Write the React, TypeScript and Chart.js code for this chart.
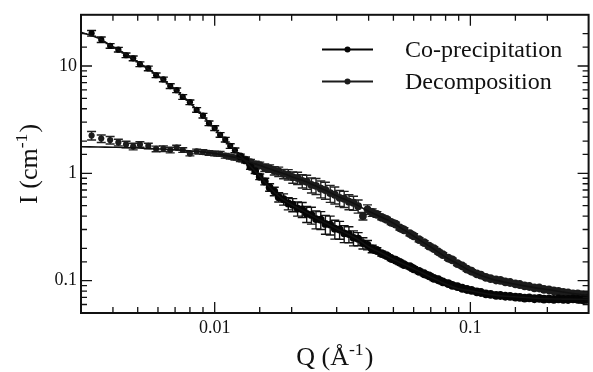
import { useEffect, useRef } from "react";
import { Chart, registerables } from "chart.js";

Chart.register(...registerables);

// ---------- data ----------
const qValues = [
  0.0033, 0.0036, 0.0039, 0.0042, 0.0045, 0.0048, 0.0051, 0.0055, 0.0059, 0.0063, 0.0067, 0.0071, 0.0075, 0.008, 0.0085, 0.009, 0.0095, 0.01,
  0.0105, 0.011, 0.0115, 0.012, 0.0126, 0.0132, 0.0138, 0.0144, 0.015, 0.0157, 0.0164, 0.0171, 0.0178, 0.0186, 0.0194, 0.0202, 0.0211, 0.022,
  0.0229, 0.0239, 0.0249, 0.026, 0.0271, 0.0283, 0.0295, 0.0308, 0.0321, 0.0335, 0.0349, 0.0364, 0.038, 0.0396, 0.0413, 0.0431, 0.045,
  0.047, 0.049, 0.051, 0.053, 0.055, 0.058, 0.06, 0.063, 0.066, 0.069, 0.072, 0.075, 0.078, 0.082, 0.085, 0.089, 0.093, 0.097,
  0.101, 0.106, 0.11, 0.115, 0.12, 0.126, 0.131, 0.137, 0.143, 0.15, 0.156, 0.163, 0.17, 0.178, 0.186, 0.194, 0.203, 0.212, 0.221, 0.231,
  0.241, 0.252, 0.263, 0.275, 0.287,
];

const coIntensity = [
  20.2, 17.6, 15.4, 14.2, 12.6, 11.8, 10.4, 9.5, 8.2, 7.5, 6.5, 5.95, 5.15, 4.6, 3.9, 3.45, 2.93, 2.64,
  2.28, 2.06, 1.8, 1.64, 1.44, 1.32, 1.15, 1.05, 0.93, 0.84, 0.74, 0.68, 0.6, 0.575, 0.525, 0.51, 0.47, 0.462,
  0.42, 0.41, 0.375, 0.37, 0.338, 0.333, 0.305, 0.3, 0.276, 0.272, 0.251, 0.246, 0.224, 0.215, 0.198, 0.191, 0.179,
  0.171, 0.161, 0.155, 0.148, 0.141, 0.135, 0.129, 0.122, 0.116, 0.111, 0.105, 0.102, 0.0975, 0.094, 0.0905, 0.088, 0.085, 0.0828,
  0.0812, 0.0788, 0.0776, 0.0755, 0.0745, 0.0731, 0.0728, 0.0716, 0.0713, 0.0702, 0.0698, 0.0687, 0.0691, 0.0679, 0.0684, 0.0672, 0.0677, 0.0671, 0.0676, 0.0669,
  0.0668, 0.0676, 0.0671, 0.0666, 0.0678,
];

const deIntensity = [
  2.25, 2.11, 2.04, 1.94, 1.86, 1.78, 1.86, 1.8, 1.69, 1.7, 1.65, 1.74, 1.65, 1.53, 1.6, 1.58, 1.55, 1.53,
  1.52, 1.46, 1.43, 1.4, 1.37, 1.34, 1.27, 1.21, 1.19, 1.13, 1.11, 1.06, 1.04, 0.99, 0.975, 0.92, 0.905, 0.85,
  0.835, 0.78, 0.765, 0.72, 0.7, 0.655, 0.632, 0.592, 0.58, 0.545, 0.532, 0.495, 0.4, 0.462, 0.432, 0.415, 0.389,
  0.372, 0.35, 0.336, 0.311, 0.298, 0.274, 0.262, 0.241, 0.226, 0.21, 0.199, 0.185, 0.175, 0.162, 0.156, 0.144, 0.137, 0.128,
  0.1225, 0.1155, 0.1125, 0.1075, 0.1045, 0.1015, 0.1005, 0.0975, 0.0962, 0.0935, 0.0921, 0.0896, 0.0883, 0.0858, 0.0855, 0.0831, 0.082, 0.0805, 0.0794, 0.0779,
  0.0769, 0.0755, 0.0753, 0.0739, 0.0729,
];

// relative uncertainties (fraction of I)
const coError = [
  0.06, 0.06, 0.05, 0.05, 0.05, 0.05, 0.05, 0.05, 0.05, 0.05, 0.05, 0.05, 0.05, 0.05, 0.05, 0.05, 0.05, 0.05,
  0.05, 0.05, 0.05, 0.05, 0.05, 0.05, 0.05, 0.05, 0.06, 0.07, 0.08, 0.09, 0.1, 0.12, 0.13, 0.14, 0.15, 0.16,
  0.17, 0.18, 0.19, 0.19, 0.2, 0.2, 0.2, 0.19, 0.18, 0.17, 0.16, 0.14, 0.12, 0.1, 0.08, 0.06, 0.05,
  0.045, 0.045, 0.045, 0.045, 0.045, 0.045, 0.045, 0.045, 0.045, 0.045, 0.045, 0.04, 0.04, 0.04, 0.04, 0.04, 0.04, 0.04,
  0.035, 0.035, 0.035, 0.035, 0.035, 0.035, 0.035, 0.035, 0.035, 0.035, 0.035, 0.035, 0.035, 0.035, 0.035, 0.035, 0.035, 0.035, 0.035, 0.035,
  0.04, 0.05, 0.06, 0.07, 0.08,
];

const deError = [
  0.09, 0.08, 0.08, 0.07, 0.07, 0.07, 0.06, 0.06, 0.06, 0.06, 0.06, 0.05, 0.05, 0.05, 0.05, 0.05, 0.05, 0.05,
  0.05, 0.05, 0.05, 0.05, 0.06, 0.06, 0.06, 0.07, 0.07, 0.08, 0.08, 0.09, 0.1, 0.1, 0.11, 0.12, 0.13, 0.14,
  0.15, 0.16, 0.17, 0.18, 0.18, 0.18, 0.18, 0.17, 0.17, 0.16, 0.15, 0.14, 0.08, 0.1, 0.08, 0.06, 0.05,
  0.045, 0.045, 0.045, 0.045, 0.045, 0.045, 0.045, 0.045, 0.045, 0.04, 0.04, 0.04, 0.04, 0.04, 0.04, 0.04, 0.04, 0.04,
  0.035, 0.035, 0.035, 0.035, 0.035, 0.035, 0.035, 0.035, 0.035, 0.035, 0.035, 0.035, 0.035, 0.035, 0.035, 0.035, 0.035, 0.035, 0.035, 0.035,
  0.04, 0.05, 0.06, 0.07, 0.08,
];

const fitQ = [
  0.003, 0.0035, 0.004, 0.0045, 0.005, 0.006, 0.007, 0.008, 0.009, 0.01, 0.011, 0.012, 0.013, 0.014, 0.015, 0.016, 0.017, 0.018, 0.019, 0.02,
  0.022, 0.024, 0.026, 0.028, 0.03, 0.033, 0.036, 0.04, 0.045, 0.05, 0.055, 0.06, 0.065, 0.07, 0.08, 0.09, 0.1, 0.12, 0.14, 0.16, 0.18, 0.2,
  0.23, 0.26, 0.29,
];

const coFit = [
  20.6, 18.2, 15.1, 12.9, 10.9, 8.1, 6.05, 4.54, 3.41, 2.61, 2.04, 1.63, 1.35, 1.12, 0.94, 0.79, 0.68, 0.6, 0.548, 0.51,
  0.452, 0.404, 0.364, 0.332, 0.305, 0.274, 0.246, 0.207, 0.18, 0.158, 0.142, 0.129, 0.118, 0.108, 0.093, 0.084, 0.0805, 0.0742, 0.0715, 0.07, 0.0687, 0.0678,
  0.0674, 0.0672, 0.067,
];

const deFit = [
  1.77, 1.76, 1.75, 1.74, 1.72, 1.69, 1.66, 1.62, 1.58, 1.53, 1.47, 1.41, 1.34, 1.25, 1.19, 1.12, 1.07, 1.02, 0.98, 0.93,
  0.861, 0.79, 0.726, 0.67, 0.617, 0.56, 0.507, 0.443, 0.39, 0.343, 0.297, 0.261, 0.23, 0.206, 0.166, 0.142, 0.123, 0.104, 0.0955, 0.09, 0.0857, 0.0827,
  0.0785, 0.0752, 0.0726,
];

const seriesNames = ["Co-precipitation", "Decomposition"];
const xTickLabels = [0.01, 0.1];
const yTickLabels = [0.1, 1, 10];
// axis titles: [text, superscript, closing text]
const xTitleParts = ["Q (Å", "-1", ")"];
const yTitleParts = ["I (cm", "-1", ")"];

// ---------- styling ----------
const FONT = "'Liberation Serif', 'Times New Roman', Times, serif";
const INK = "#111111";
const CO_COLOR = "#050505";
const DE_COLOR = "#1c1c1c";

const labelFor = (v: number, list: number[]) => {
  for (const l of list) if (Math.abs(v / l - 1) < 1e-6) return String(l);
  return "";
};

const isDecade = (v: number) => {
  const l = Math.log10(v);
  return Math.abs(l - Math.round(l)) < 1e-6;
};

// draws "base" + superscript "sup" + "tail", centred on (0,0) horizontally, baseline at 0
const drawSupTitle = (ctx: CanvasRenderingContext2D, parts: string[], size: number) => {
  const supSize = size * 0.68;
  ctx.font = `${size}px ${FONT}`;
  const w0 = ctx.measureText(parts[0]).width;
  const w2 = ctx.measureText(parts[2]).width;
  ctx.font = `${supSize}px ${FONT}`;
  const w1 = ctx.measureText(parts[1]).width;
  const total = w0 + w1 + w2 + 1;
  let x = -total / 2;
  ctx.textAlign = "left";
  ctx.textBaseline = "alphabetic";
  ctx.font = `${size}px ${FONT}`;
  ctx.fillText(parts[0], x, 0);
  x += w0;
  ctx.font = `${supSize}px ${FONT}`;
  ctx.fillText(parts[1], x, -size * 0.38);
  x += w1 + 1;
  ctx.font = `${size}px ${FONT}`;
  ctx.fillText(parts[2], x, 0);
};

const errorBarPlugin = {
  id: "errorBars",
  beforeDatasetsDraw(chart: any) {
    const { ctx, chartArea: a, scales } = chart;
    const x = scales.x;
    const y = scales.y;
    ctx.save();
    ctx.beginPath();
    ctx.rect(a.left, a.top, a.right - a.left, a.bottom - a.top);
    ctx.clip();
    chart.data.datasets.forEach((ds: any) => {
      if (!ds.errors) return;
      ctx.strokeStyle = ds.errorColor;
      ctx.lineWidth = 1.4;
      ds.data.forEach((pt: any, j: number) => {
        const e = ds.errors[j];
        const px = x.getPixelForValue(pt.x);
        const hi = y.getPixelForValue(pt.y * (1 + e));
        const lo = y.getPixelForValue(pt.y * (1 - e));
        ctx.beginPath();
        ctx.moveTo(px, hi);
        ctx.lineTo(px, lo);
        ctx.moveTo(px - 4.5, hi);
        ctx.lineTo(px + 4.5, hi);
        ctx.moveTo(px - 4.5, lo);
        ctx.lineTo(px + 4.5, lo);
        ctx.stroke();
      });
    });
    ctx.restore();
  },
};

const framePlugin = {
  id: "frame",
  afterDraw(chart: any) {
    const { ctx, chartArea: a, scales } = chart;
    const x = scales.x;
    const y = scales.y;
    ctx.save();
    ctx.strokeStyle = INK;
    // ticks, pointing inward on all four sides
    ctx.lineWidth = 1.3;
    const major = 11;
    const minor = 6;
    x.ticks.forEach((t: any) => {
      const px = x.getPixelForValue(t.value);
      if (px <= a.left + 1 || px >= a.right - 1) return;
      const len = isDecade(t.value) ? major : minor;
      ctx.beginPath();
      ctx.moveTo(px, a.bottom);
      ctx.lineTo(px, a.bottom - len);
      ctx.moveTo(px, a.top);
      ctx.lineTo(px, a.top + len);
      ctx.stroke();
    });
    y.ticks.forEach((t: any) => {
      const py = y.getPixelForValue(t.value);
      if (py <= a.top + 1 || py >= a.bottom - 1) return;
      const len = isDecade(t.value) ? major : minor;
      ctx.beginPath();
      ctx.moveTo(a.left, py);
      ctx.lineTo(a.left + len, py);
      ctx.moveTo(a.right, py);
      ctx.lineTo(a.right - len, py);
      ctx.stroke();
    });
    // frame
    ctx.lineWidth = 2;
    ctx.strokeRect(a.left, a.top, a.right - a.left, a.bottom - a.top);

    // axis titles
    ctx.fillStyle = INK;
    ctx.save();
    ctx.translate((a.left + a.right) / 2, 365);
    drawSupTitle(ctx, xTitleParts, 26);
    ctx.restore();
    ctx.save();
    ctx.translate(37, (a.top + a.bottom) / 2);
    ctx.rotate(-Math.PI / 2);
    drawSupTitle(ctx, yTitleParts, 26);
    ctx.restore();

    // legend (inside, top right)
    const rows = [
      { name: seriesNames[0], color: CO_COLOR, y: 49.5 },
      { name: seriesNames[1], color: DE_COLOR, y: 81.5 },
    ];
    ctx.font = `24px ${FONT}`;
    ctx.textBaseline = "middle";
    ctx.textAlign = "left";
    rows.forEach((r) => {
      ctx.strokeStyle = r.color;
      ctx.lineWidth = 2;
      ctx.beginPath();
      ctx.moveTo(322, r.y);
      ctx.lineTo(373, r.y);
      ctx.stroke();
      ctx.fillStyle = r.color;
      ctx.beginPath();
      ctx.arc(347.5, r.y, 3, 0, Math.PI * 2);
      ctx.fill();
      ctx.fillStyle = INK;
      ctx.fillText(r.name, 405, r.y + 1.5);
    });
    ctx.restore();
  },
};

export default function App() {
  const canvasRef = useRef<HTMLCanvasElement | null>(null);

  useEffect(() => {
    const canvas = canvasRef.current;
    if (!canvas) return;

    const coPoints = qValues.map((q, i) => ({ x: q, y: coIntensity[i] }));
    const dePoints = qValues.map((q, i) => ({ x: q, y: deIntensity[i] }));
    const coFitPts = fitQ.map((q, i) => ({ x: q, y: coFit[i] }));
    const deFitPts = fitQ.map((q, i) => ({ x: q, y: deFit[i] }));
    const radius = (c: any) => {
      const q = qValues[c.dataIndex];
      return q > 0.04 ? 4.4 : q > 0.012 ? 3.9 : 3.1;
    };

    const chart = new Chart(canvas, {
      type: "scatter",
      data: {
        datasets: [
          {
            label: seriesNames[0] + " fit",
            data: coFitPts,
            showLine: true,
            borderColor: INK,
            borderWidth: 1.6,
            pointRadius: 0,
            tension: 0.3,
            order: 0,
          } as any,
          {
            label: seriesNames[1] + " fit",
            data: deFitPts,
            showLine: true,
            borderColor: INK,
            borderWidth: 1.6,
            pointRadius: 0,
            tension: 0.3,
            order: 0,
          } as any,
          {
            label: seriesNames[0],
            data: coPoints,
            showLine: false,
            pointRadius: radius,
            pointBackgroundColor: CO_COLOR,
            pointBorderWidth: 0,
            errors: coError,
            errorColor: "#111111",
            order: 1,
          } as any,
          {
            label: seriesNames[1],
            data: dePoints,
            showLine: false,
            pointRadius: radius,
            pointBackgroundColor: DE_COLOR,
            pointBorderWidth: 0,
            errors: deError,
            errorColor: "#222222",
            order: 1,
          } as any,
        ],
      },
      options: {
        animation: false,
        responsive: false,
        events: [],
        layout: { padding: { top: 14, right: 1, left: 0, bottom: 0 } },
        plugins: {
          legend: { display: false },
          tooltip: { enabled: false },
        },
        scales: {
          x: {
            type: "logarithmic",
            position: "bottom",
            min: 0.003,
            max: 0.29,
            grid: { display: false, drawTicks: false },
            border: { display: false },
            ticks: {
              autoSkip: false,
              maxRotation: 0,
              padding: 4,
              color: INK,
              font: { family: FONT, size: 18 },
              callback: (v: any) => labelFor(Number(v), xTickLabels),
            },
            title: { display: false },
            afterFit: (s: any) => {
              s.height = 59;
            },
          },
          y: {
            type: "logarithmic",
            min: 0.05,
            max: 30,
            grid: { display: false, drawTicks: false },
            border: { display: false },
            ticks: {
              autoSkip: false,
              padding: 4,
              color: INK,
              font: { family: FONT, size: 18 },
              callback: (v: any) => labelFor(Number(v), yTickLabels),
            },
            title: { display: false },
            afterFit: (s: any) => {
              s.width = 81;
            },
          },
        },
      } as any,
      plugins: [errorBarPlugin, framePlugin],
    });

    return () => chart.destroy();
  }, []);

  return (
    <div
      style={{
        position: "absolute",
        left: 0,
        top: 0,
        width: 593,
        height: 372,
        overflow: "hidden",
        background: "#ffffff",
      }}
    >
      <canvas ref={canvasRef} width={593} height={372} style={{ display: "block" }} />
    </div>
  );
}
